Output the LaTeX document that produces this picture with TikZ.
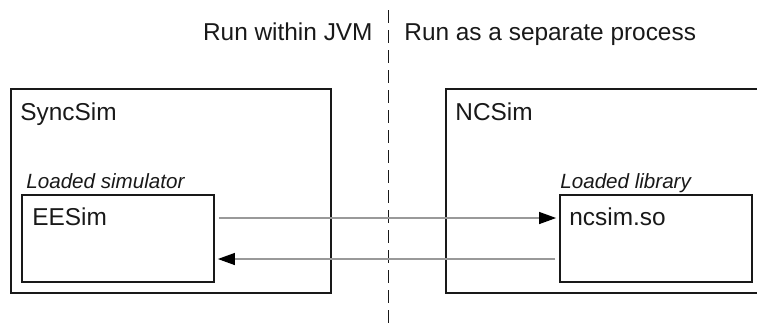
\documentclass[tikz,border=0pt]{standalone}
\usepackage{fontspec}
\setmainfont{Liberation Sans}
\usetikzlibrary{arrows.meta, positioning, calc}

\tikzset{
	proc/.style={draw=black!90, line width=0.9pt, minimum height=102pt, inner sep=0pt},
	loaded/.style={draw=black!90, line width=0.9pt, minimum width=96pt, minimum height=43.5pt, inner sep=0pt},
	heading/.style={font=\fontsize{12.2}{14}\selectfont, text=black!90, inner sep=0pt},
	caption/.style={font=\fontsize{10.3}{12}\selectfont\itshape, text=black!90, inner sep=0pt},
	call/.style={draw=black!40, line width=0.6pt, -{Triangle[length=8.5pt,width=6pt,black]}, shorten >=1.5pt, shorten <=2pt}
}

\begin{document}
\begin{tikzpicture}[x=0.5pt, y=-0.5pt]
	\clip (0,0) rectangle (757,329);
	\useasboundingbox (0,0) rectangle (757,329);

	% the two sides
	\coordinate (divtop) at (388.5,10);
	\coordinate (divbot) at (388.5,335);
	\draw[black!90, line width=0.8pt, dash pattern=on 6.5pt off 3.5pt] (divtop) -- (divbot);
	\node[heading, anchor=base east] (jvm) at (373,40) {Run within JVM};
	\node[heading, anchor=base west] (sep) at (404,40) {Run as a separate process};

	% simulators
	\node[proc, minimum width=160pt] (syncsim) at (171,191) {};
	\node[proc, minimum width=167pt] (ncsim) at (613,191) {};
	\node[heading, anchor=base west] (synctitle) at (20,120) {SyncSim};
	\node[heading, anchor=base west] (nctitle) at (455,120) {NCSim};

	% loaded parts
	\node[loaded] (eesim) at (118,238.5) {};
	\node[loaded] (ncsimso) at (656,238.5) {};
	\node[caption, anchor=base west] (simcap) at (26,188) {Loaded simulator};
	\node[caption, anchor=base west] (libcap) at (560,188) {Loaded library};
	\node[heading, anchor=base west] (eename) at (32,225) {EESim};
	\node[heading, anchor=base west] (soname) at (569,225) {ncsim.so};

	% calls
	\draw[call] ([yshift=10.25pt]eesim.east) -- ([yshift=10.25pt]ncsimso.west);
	\draw[call] ([yshift=-10.25pt]ncsimso.west) -- ([yshift=-10.25pt]eesim.east);
\end{tikzpicture}
\end{document}
